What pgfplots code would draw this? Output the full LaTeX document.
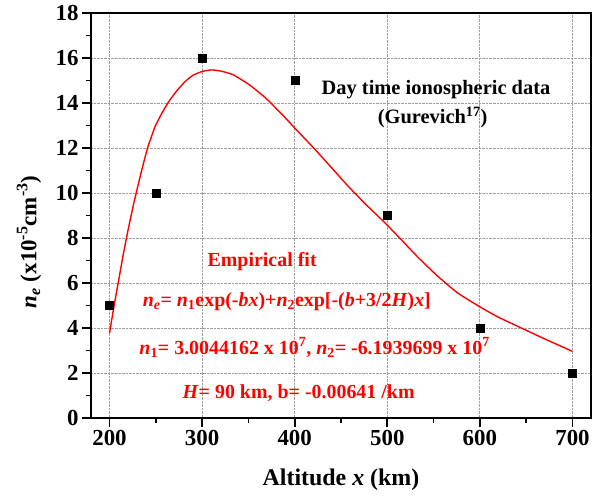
\documentclass[border=0pt]{standalone}
\usepackage{fontspec}
\setmainfont{Liberation Serif}
\usepackage{pgfplots}
\pgfplotsset{compat=1.18}
\begin{document}
\begin{tikzpicture}
\begin{axis}[
  at={(0,0)}, anchor=south west,
  scale only axis, width=500bp, height=405bp,
  xmin=180, xmax=720, ymin=0, ymax=18,
  xtick={200,300,...,700}, ytick={0,2,...,18},
  minor xtick={250,350,...,650}, minor ytick={1,3,...,17},
  tick align=outside, tick pos=left,
  major tick length=9bp, minor tick length=5bp,
  axis line style={line width=2.4bp},
  every tick/.style={line width=1.6bp, black},
  grid=major, major grid style={gray!75, densely dotted, line width=0.9bp},
  /pgf/number format/assume math mode=true,
  tick label style={font=\bfseries\fontsize{23}{23}\selectfont},
  xlabel={\textbf{Altitude \textit{x} (km)}},
  ylabel={\textbf{\textit{n}\textsubscript{\textit{e}} (x10\textsuperscript{-5}cm\textsuperscript{-3})}},
  xlabel style={font=\bfseries\fontsize{24}{24}\selectfont, at={(axis description cs:0.5,0)}, anchor=center, yshift=-62bp},
  ylabel style={font=\bfseries\fontsize{23}{23}\selectfont, at={(axis description cs:0,0.435)}, anchor=center, yshift=62bp},
  clip=false,
]
\addplot[red, line width=1.4bp, smooth, tension=0.3] coordinates {
(200,3.78) (205,5.0) (210,6.15) (215,7.3) (220,8.35) (225.7,9.45) (229.4,10.1) (234.7,11.0)
(241.1,12.0) (249,12.93) (256.2,13.52) (263.3,14.02) (272.2,14.52) (281.1,14.93) (290,15.23)
(300,15.4) (309.6,15.47) (320,15.42) (333.3,15.26) (351,14.81) (368.7,14.22) (386.6,13.48)
(400,12.89) (422.3,11.92) (440.1,11.11) (458,10.29) (475.9,9.53) (490.3,8.96) (500,8.57)
(511.7,8.07) (533,7.15) (554.5,6.3) (575.9,5.56) (600,4.94) (619,4.5) (643.7,4.02)
(668.7,3.54) (700,2.96)
};
\addplot[only marks, mark=square*, mark size=4bp, black] coordinates {
(200,5) (250,10) (300,16) (400,15) (500,9) (600,4) (700,2)
};
\node[font=\bfseries\fontsize{20.5}{20.5}\selectfont] at (axis cs:552.6,14.59) {Day time ionospheric data};
\node[font=\bfseries\fontsize{20.5}{20.5}\selectfont] at (axis cs:549,13.35) {(Gurevich\textsuperscript{17})};
\node[red, font=\bfseries\fontsize{20}{20}\selectfont] at (axis cs:364.8,6.96) {Empirical fit};
\node[red, font=\bfseries\fontsize{20}{20}\selectfont] at (axis cs:391.5,5.17) {\textit{n}\textsubscript{\textit{e}}= \textit{n}\textsubscript{1}exp(-\textit{bx})+\textit{n}\textsubscript{2}exp[-(\textit{b}+3/2\textit{H})\textit{x}]};
\node[red, font=\bfseries\fontsize{20}{20}\selectfont] at (axis cs:421.5,3.13) {\textit{n}\textsubscript{1}= 3.0044162 x 10\textsuperscript{7}, \textit{n}\textsubscript{2}= -6.1939699 x 10\textsuperscript{7}};
\node[red, font=\bfseries\fontsize{20}{20}\selectfont] at (axis cs:404.3,1.12) {\textit{H}= 90 km, b= -0.00641 /km};
\end{axis}
\pgfresetboundingbox
\path[use as bounding box] (-91bp,-82bp) rectangle (515bp,418bp);
\end{tikzpicture}
\end{document}
